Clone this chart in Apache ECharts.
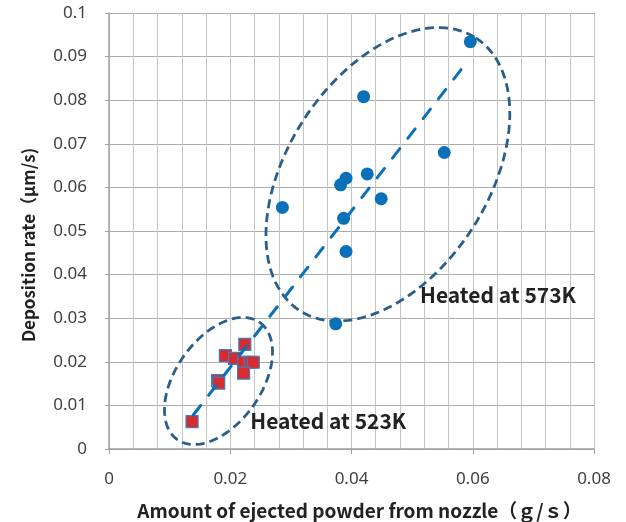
<!DOCTYPE html>
<html>
<head>
<meta charset="utf-8">
<script src="https://cdn.jsdelivr.net/npm/echarts@6/dist/echarts.min.js"></script>
<style>
  html, body { margin: 0; padding: 0; background: #fff; }
  #chart { width: 626px; height: 522px; }
</style>
</head>
<body>
<div id="chart"></div>
<script>
  // heated at 573K (blue circles)
  var heated573X = [0.0596, 0.0420, 0.0553, 0.0391, 0.0382, 0.0426, 0.0449, 0.0286, 0.0387, 0.0391, 0.0374]
  var heated573Y = [0.0934, 0.0808, 0.0680, 0.0621, 0.0606, 0.0631, 0.0574, 0.0554, 0.0529, 0.0453, 0.0287]
  // heated at 523K (red squares)
  var heated523X = [0.0137, 0.0179, 0.0181, 0.0192, 0.0207, 0.0224, 0.0222, 0.0233, 0.0238, 0.0222]
  var heated523Y = [0.0063, 0.0157, 0.0151, 0.0214, 0.0208, 0.0240, 0.0199, 0.0199, 0.0199, 0.0174]
  // dashed trend line end points
  var trendX = [0.0139, 0.0593]
  var trendY = [0.0078, 0.0892]
  // ellipse outlines: centre x, centre y, half-axis 1 (dx, dy), half-axis 2 (dx, dy), in axis units
  var ellipse573 = [0.0460, 0.0630, 0.01450, 0.03130, 0.01394, -0.01241]
  var ellipse523 = [0.01806, 0.0156, 0.00680, 0.01344, 0.00576, -0.00564]
  // group labels
  var noteText = ['Heated at 573K', 'Heated at 523K']
  var noteX = [0.0513, 0.0233]
  var noteY = [0.0353, 0.0064]

  var xTickLabels = ['0', '0.02', '0.04', '0.06', '0.08']
  var yTickLabels = ['0', '0.01', '0.02', '0.03', '0.04', '0.05', '0.06', '0.07', '0.08', '0.09', '0.1']

  function zip(xs, ys) {
    return xs.map(function (x, i) { return [x, ys[i]] })
  }

  function renderEllipse(params, api) {
    var cx = api.value(0), cy = api.value(1)
    var ux = api.value(2), uy = api.value(3)
    var vx = api.value(4), vy = api.value(5)
    var pts = []
    for (var i = 0; i <= 120; i++) {
      var t = i / 120 * Math.PI * 2
      var c = Math.cos(t), s = Math.sin(t)
      pts.push(api.coord([cx + ux * c + vx * s, cy + uy * c + vy * s]))
    }
    return {
      type: 'polyline',
      shape: {points: pts},
      style: {
        fill: null,
        stroke: '#2b5e8b',
        lineWidth: 2.8,
        lineDash: [9, 5]
      }
    }
  }

  function renderNote(params, api) {
    var p = api.coord([api.value(0), api.value(1)])
    return {
      type: 'text',
      x: p[0],
      y: p[1],
      style: {
        text: noteText[params.dataIndex],
        fill: '#222',
        font: 'bold 21px "Noto Sans CJK JP", sans-serif',
        align: 'left',
        verticalAlign: 'middle'
      }
    }
  }

  var chart = echarts.init(document.getElementById('chart'))
  var tickFont = '"Noto Sans", sans-serif'
  var option = {
    animation: false,
    grid: {
      left: 109,
      top: 13,
      width: 485,
      height: 436,
      outerBoundsMode: 'none'
    },
    xAxis: {
      type: 'value',
      min: 0,
      max: 0.08,
      interval: 0.02,
      name: 'Amount of ejected powder from nozzle（ｇ/ｓ）',
      nameLocation: 'middle',
      nameGap: 52,
      nameTextStyle: {
        fontFamily: '"Noto Sans CJK JP", sans-serif',
        fontWeight: 'bold',
        fontSize: 19,
        color: '#222',
        padding: [0, 0, 0, 16]
      },
      axisLine: {lineStyle: {color: '#a0a0a0', width: 1.5}},
      axisTick: {show: true, length: 5, lineStyle: {color: '#a0a0a0'}},
      minorTick: {show: false, splitNumber: 5},
      axisLabel: {
        margin: 22,
        fontFamily: tickFont,
        fontSize: 17,
        color: '#404040',
        formatter: function (v) {
          return xTickLabels[Math.round(v / 0.02)]
        }
      },
      splitLine: {show: true, lineStyle: {color: '#c4c4c4', width: 1}},
      minorSplitLine: {show: true, lineStyle: {color: '#c4c4c4', width: 1}}
    },
    yAxis: {
      type: 'value',
      min: 0,
      max: 0.1,
      interval: 0.01,
      name: 'Deposition rate（μm/s)',
      nameLocation: 'middle',
      nameGap: 72,
      nameTextStyle: {
        fontFamily: '"Noto Sans CJK JP", sans-serif',
        fontWeight: 'bold',
        fontSize: 17,
        color: '#222',
        padding: [0, 28, 0, 0]
      },
      axisLine: {show: true, lineStyle: {color: '#a0a0a0', width: 1.5}},
      axisTick: {show: true, length: 4, lineStyle: {color: '#a0a0a0'}},
      axisLabel: {
        margin: 22,
        fontFamily: tickFont,
        fontSize: 17,
        color: '#404040',
        formatter: function (v) {
          return yTickLabels[Math.round(v / 0.01)]
        }
      },
      splitLine: {show: true, lineStyle: {color: '#acacac', width: 1}}
    },
    series: [
      {
        name: 'ellipses',
        type: 'custom',
        renderItem: renderEllipse,
        silent: true,
        clip: false,
        z: 1,
        data: [ellipse573, ellipse523]
      },
      {
        name: 'Heated at 523K',
        type: 'scatter',
        symbol: 'rect',
        symbolSize: 12,
        z: 3,
        itemStyle: {
          color: '#d92b2d',
          borderColor: '#3c7fc0',
          borderWidth: 1.2,
          opacity: 1
        },
        data: zip(heated523X, heated523Y)
      },
      {
        name: 'Heated at 573K',
        type: 'scatter',
        symbol: 'circle',
        symbolSize: 13,
        z: 3,
        itemStyle: {color: '#0a70ba', opacity: 1},
        data: zip(heated573X, heated573Y)
      },
      {
        name: 'trend',
        type: 'line',
        showSymbol: false,
        silent: true,
        z: 4,
        lineStyle: {
          color: '#0a70ba',
          width: 3,
          type: [12, 13],
          cap: 'round'
        },
        data: zip(trendX, trendY)
      },
      {
        name: 'notes',
        type: 'custom',
        renderItem: renderNote,
        silent: true,
        z: 5,
        data: zip(noteX, noteY)
      }
    ]
  }
  chart.setOption(option)
</script>
</body>
</html>
